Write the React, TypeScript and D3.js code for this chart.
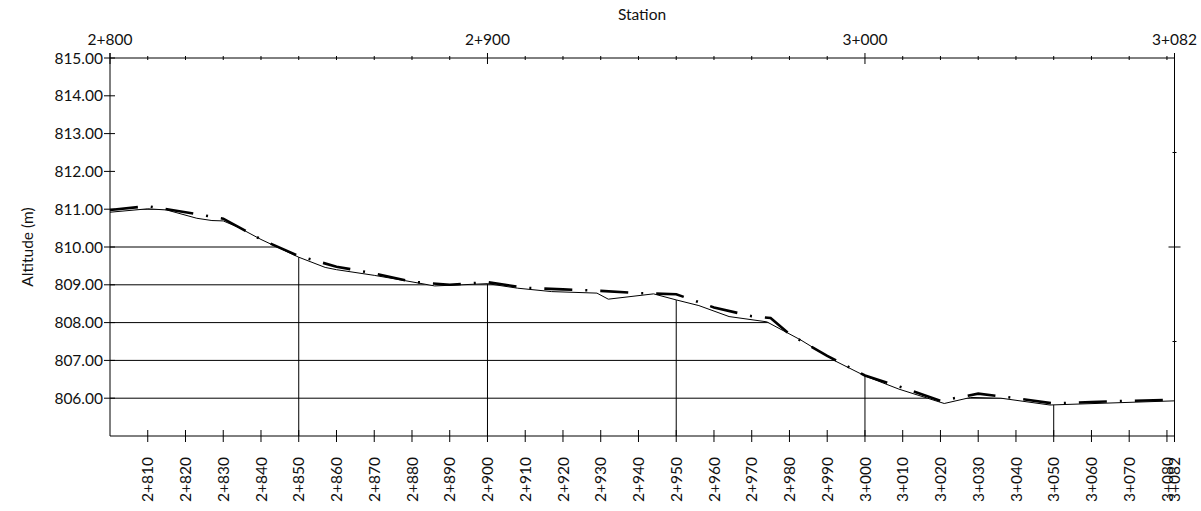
import { useEffect, useRef } from 'react'
import * as d3 from 'd3'

const W = 1201
const H = 511

// existing ground profile (thin solid)
const groundStations = [2800, 2810, 2815, 2823, 2827, 2830, 2834, 2840, 2850, 2857, 2860, 2870, 2877, 2886, 2900, 2908, 2917, 2929, 2932, 2944, 2950, 2956, 2964, 2974, 2983, 2992, 3000, 3009, 3021, 3028, 3036, 3049, 3082]
const groundElev = [810.92, 811.01, 810.98, 810.76, 810.7, 810.69, 810.52, 810.2, 809.73, 809.46, 809.4, 809.25, 809.13, 808.97, 809.03, 808.91, 808.82, 808.78, 808.62, 808.76, 808.6, 808.45, 808.16, 808.02, 807.54, 806.99, 806.59, 806.24, 805.86, 806.02, 806.0, 805.82, 805.93]

// design profile (heavy dash-dot)
const designStations = [2800, 2810, 2820, 2830, 2840, 2850, 2860, 2870, 2880, 2890, 2900, 2910, 2920, 2930, 2940, 2950, 2960, 2970, 2975, 2980, 2990, 3000, 3010, 3020, 3030, 3040, 3050, 3060, 3070, 3082]
const designElev = [810.98, 811.08, 810.92, 810.75, 810.2, 809.76, 809.48, 809.3, 809.08, 809.0, 809.07, 808.92, 808.88, 808.84, 808.78, 808.75, 808.4, 808.17, 808.12, 807.7, 807.12, 806.6, 806.28, 805.93, 806.12, 806.0, 805.86, 805.9, 805.93, 805.96]

const gridStations = [2850, 2900, 2950, 3000, 3050]
const altTicks = [806, 807, 808, 809, 810, 811, 812, 813, 814, 815]
const rightTicksMajor = [810]
const rightTicksMinor = [812.5, 807.5]
const topMajor = [2800, 2900, 3000, 3082]
const topMinor = [2810, 2820, 2830, 2840, 2850, 2860, 2870, 2880, 2890, 2910, 2920, 2930, 2940, 2950, 2960, 2970, 2980, 2990, 3010, 3020, 3030, 3040, 3050, 3060, 3070, 3080]
const bottomTicks = [2810, 2820, 2830, 2840, 2850, 2860, 2870, 2880, 2890, 2900, 2910, 2920, 2930, 2940, 2950, 2960, 2970, 2980, 2990, 3000, 3010, 3020, 3030, 3040, 3050, 3060, 3070, 3080, 3082]

const FONT = 'Lato, "Open Sans", sans-serif'
const TXT = '#111'

const stationLabel = (s: number) => `${Math.floor(s / 1000)}+${String(s % 1000).padStart(3, '0')}`

export default function App() {
  const svgRef = useRef<SVGSVGElement>(null)

  useEffect(() => {
    const svgEl = svgRef.current
    if (!svgEl) return

    const left = 110
    const right = 1174.5
    const top = 58
    const bottom = 436

    const x = d3.scaleLinear().domain([2800, 3082]).range([left, right])
    const y = d3.scaleLinear().domain([805, 815]).range([bottom, top])

    const svg = d3.select(svgEl)
    svg.selectAll('*').remove()

    const ground = groundStations.map((s, i) => ({ s, v: groundElev[i] }))
    const design = designStations.map((s, i) => ({ s, v: designElev[i] }))

    // clip: area under the ground line
    const area = d3.area<{ s: number; v: number }>()
      .x(d => x(d.s))
      .y0(bottom)
      .y1(d => y(d.v))
    svg.append('defs').append('clipPath').attr('id', 'under')
      .append('path').datum(ground).attr('d', area)

    const grid = svg.append('g').attr('clip-path', 'url(#under)')
    altTicks.forEach(v => {
      grid.append('line')
        .attr('x1', left).attr('x2', right)
        .attr('y1', y(v)).attr('y2', y(v))
        .style('stroke', '#000').style('stroke-width', '1')
    })
    gridStations.forEach(s => {
      grid.append('line')
        .attr('x1', x(s)).attr('x2', x(s))
        .attr('y1', top).attr('y2', bottom)
        .style('stroke', '#000').style('stroke-width', '1')
    })

    // frame axes
    const axisG = svg.append('g').style('stroke', '#000').style('stroke-width', '1')
    axisG.append('line').attr('x1', left).attr('x2', left).attr('y1', top - 5).attr('y2', bottom)
    axisG.append('line').attr('x1', right).attr('x2', right).attr('y1', top - 5).attr('y2', bottom + 6)
    axisG.append('line').attr('x1', left).attr('x2', right).attr('y1', top).attr('y2', top)
    axisG.append('line').attr('x1', left).attr('x2', right).attr('y1', bottom).attr('y2', bottom)

    // left ticks
    altTicks.forEach(v => {
      axisG.append('line').attr('x1', left - 6).attr('x2', left + 5).attr('y1', y(v)).attr('y2', y(v))
    })
    // right ticks
    rightTicksMajor.forEach(v => {
      axisG.append('line').attr('x1', right - 6).attr('x2', right + 6).attr('y1', y(v)).attr('y2', y(v))
    })
    rightTicksMinor.forEach(v => {
      axisG.append('line').attr('x1', right - 2).attr('x2', right + 2).attr('y1', y(v)).attr('y2', y(v))
    })
    // top ticks
    topMinor.forEach(s => {
      axisG.append('line').attr('x1', x(s)).attr('x2', x(s)).attr('y1', top - 2).attr('y2', top + 2)
    })
    topMajor.forEach(s => {
      axisG.append('line').attr('x1', x(s)).attr('x2', x(s)).attr('y1', top - 5).attr('y2', top + 6)
    })
    // bottom ticks
    bottomTicks.forEach(s => {
      axisG.append('line').attr('x1', x(s)).attr('x2', x(s)).attr('y1', bottom - 6).attr('y2', bottom + 6)
    })

    // profiles
    const line = d3.line<{ s: number; v: number }>()
      .x(d => x(d.s))
      .y(d => y(d.v))

    svg.append('path')
      .datum(ground)
      .attr('fill', 'none')
      .attr('d', line)
      .style('stroke', '#000')
      .style('stroke-width', '1')

    svg.append('path')
      .datum(design)
      .attr('fill', 'none')
      .attr('d', line)
      .style('stroke', '#000')
      .style('stroke-width', '2.6')
      .style('stroke-dasharray', '28 13 2 13')

    // labels
    const txt = svg.append('g')
      .style('fill', TXT)
      .style('font-family', FONT)
      .style('font-size', '15.5px')

    altTicks.forEach(v => {
      txt.append('text')
        .attr('x', left - 7)
        .attr('y', y(v))
        .attr('dy', '0.36em')
        .attr('text-anchor', 'end')
        .text(v.toFixed(2))
    })

    topMajor.forEach(s => {
      txt.append('text')
        .attr('x', x(s))
        .attr('y', 45)
        .attr('text-anchor', 'middle')
        .text(stationLabel(s))
    })

    bottomTicks.forEach(s => {
      txt.append('text')
        .attr('transform', `translate(${x(s)},457) rotate(-90)`)
        .attr('dy', '0.36em')
        .attr('text-anchor', 'end')
        .text(stationLabel(s))
    })

    txt.append('text')
      .attr('x', 642)
      .attr('y', 20)
      .attr('text-anchor', 'middle')
      .text('Station')

    txt.append('text')
      .attr('transform', `translate(27,${(top + bottom) / 2}) rotate(-90)`)
      .attr('dy', '0.36em')
      .attr('text-anchor', 'middle')
      .text('Altitude (m)')
  }, [])

  return (
    <div style={{ position: 'absolute', left: 0, top: 0, width: W, height: H, background: '#fff' }}>
      <svg ref={svgRef} width={W} height={H} style={{ display: 'block' }} />
    </div>
  )
}
